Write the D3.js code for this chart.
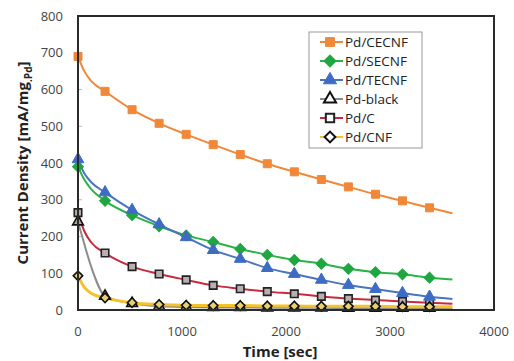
<!DOCTYPE html>
<html>
<head>
<meta charset="utf-8">
<script src="https://cdn.jsdelivr.net/npm/d3@7"></script>
<style>
  body { margin: 0; background: #fff; }
  text { font-family: "Open Sans", "Liberation Sans", sans-serif; }
</style>
</head>
<body>
<div id="chart"></div>
<script>
var svgWidth = 514;
var svgHeight = 361;

var margin = { top: 16, right: 20, bottom: 51, left: 78 };
var width = svgWidth - margin.left - margin.right;
var height = svgHeight - margin.top - margin.bottom;

// Data
var times = [0, 60, 130, 260, 520, 780, 1040, 1300, 1560, 1820, 2080, 2340, 2600, 2860, 3120, 3380, 3600];
var markerTimes = [0, 260, 520, 780, 1040, 1300, 1560, 1820, 2080, 2340, 2600, 2860, 3120, 3380];

var names = ["Pd/CECNF", "Pd/SECNF", "Pd/TECNF", "Pd-black", "Pd/C", "Pd/CNF"];
var cecnf = [690, 650, 622, 595, 545, 508, 478, 450, 423, 398, 376, 355, 335, 315, 297, 278, 263];
var secnf = [390, 355, 328, 297, 258, 228, 203, 185, 166, 150, 136, 126, 112, 103, 97, 88, 83];
var tecnf = [410, 372, 347, 320, 272, 233, 198, 163, 139, 114, 98, 82, 68, 57, 46, 36, 30];
var pdBlack = [240, 180, 115, 38, 18, 10, 8, 7, 7, 6, 6, 6, 5, 5, 5, 5, 5];
var pdC = [265, 215, 183, 155, 118, 98, 82, 67, 58, 50, 44, 37, 31, 27, 23, 20, 17];
var pdCnf = [93, 62, 45, 33, 20, 15, 13, 12, 12, 11, 11, 10, 10, 10, 9, 9, 9];

var xTicks = [0, 1000, 2000, 3000, 4000];
var yTicks = [0, 100, 200, 300, 400, 500, 600, 700, 800];

// diamonds are drawn as squares turned 45 degrees
var series = [
  { name: names[0], values: cecnf, line: "#F0883A", symbol: d3.symbolSquare, rot: 0, size: 64, fill: "#F0883A", stroke: "#F0883A" },
  { name: names[1], values: secnf, line: "#2DB24A", symbol: d3.symbolSquare, rot: 45, size: 60, fill: "#1FA640", stroke: "#1FA640" },
  { name: names[2], values: tecnf, line: "#4A74C0", symbol: d3.symbolTriangle, rot: 0, size: 60, fill: "#3E6CC4", stroke: "#3E6CC4" },
  { name: names[3], values: pdBlack, line: "#8C8C8C", symbol: d3.symbolTriangle, rot: 0, size: 50, fill: "#B0A890", stroke: "#111" },
  { name: names[4], values: pdC, line: "#C62A3E", symbol: d3.symbolSquare, rot: 0, size: 56, fill: "#B8B0B0", stroke: "#222" },
  { name: names[5], values: pdCnf, line: "#F4C22A", symbol: d3.symbolSquare, rot: 45, size: 44, fill: "#E8D070", stroke: "#111" }
];

var svg = d3.select("#chart")
  .append("svg")
  .attr("width", svgWidth)
  .attr("height", svgHeight);

var chartGroup = svg.append("g")
  .attr("transform", `translate(${margin.left}, ${margin.top})`);

var xScale = d3.scaleLinear().domain([0, 4000]).range([0, width]);
var yScale = d3.scaleLinear().domain([0, 800]).range([height, 0]);

// small inner ticks on the left axis
chartGroup.selectAll(".ytick")
  .data(yTicks.slice(1, -1))
  .enter()
  .append("line")
  .attr("x1", 0).attr("x2", 4)
  .attr("y1", d => yScale(d)).attr("y2", d => yScale(d))
  .attr("stroke", "#bbb")
  .attr("stroke-width", 1);

// lines
var line = d3.line()
  .x((d, i) => xScale(times[i]))
  .y(d => yScale(d))
  .curve(d3.curveMonotoneX);

var order = [4, 3, 5, 1, 2, 0];
order.forEach(function(k) {
  var s = series[k];
  chartGroup.append("path")
    .datum(s.values)
    .attr("d", line)
    .attr("fill", "none")
    .attr("stroke", s.line)
    .attr("stroke-width", k === 5 ? 3 : 2);
});

// markers
order.forEach(function(k) {
  var s = series[k];
  var pts = markerTimes.map(t => ({ t: t, v: s.values[times.indexOf(t)] }));
  chartGroup.selectAll(null)
    .data(pts)
    .enter()
    .append("path")
    .attr("d", d3.symbol().type(s.symbol).size(s.size))
    .attr("transform", d => `translate(${xScale(d.t)}, ${yScale(d.v)}) rotate(${s.rot})`)
    .attr("fill", s.fill)
    .attr("stroke", s.stroke)
    .attr("stroke-width", k >= 3 ? 1.6 : 1);
});

// plot frame
chartGroup.append("rect")
  .attr("x", 0).attr("y", 0)
  .attr("width", width).attr("height", height)
  .attr("fill", "none")
  .attr("stroke", "#2a2a2a")
  .attr("stroke-width", 2);

// tick labels
chartGroup.selectAll(".ylab")
  .data(yTicks)
  .enter()
  .append("text")
  .attr("x", -15)
  .attr("y", d => yScale(d))
  .attr("dy", "0.35em")
  .attr("text-anchor", "end")
  .attr("font-size", "13px")
  .attr("fill", "#444")
  .text(d => d);

chartGroup.selectAll(".xlab")
  .data(xTicks)
  .enter()
  .append("text")
  .attr("x", d => xScale(d))
  .attr("y", height + 26)
  .attr("text-anchor", "middle")
  .attr("font-size", "13px")
  .attr("fill", "#444")
  .text(d => d);

// axis titles
var yTitle = chartGroup.append("text")
  .attr("transform", "rotate(-90)")
  .attr("x", -height / 2)
  .attr("y", -margin.left + 28)
  .attr("text-anchor", "middle")
  .attr("font-size", "15px")
  .attr("font-weight", "bold")
  .attr("fill", "#222");
yTitle.append("tspan").text("Current Density [mA/mg");
yTitle.append("tspan").attr("font-size", "10px").attr("dy", 4).text(".Pd");
yTitle.append("tspan").attr("dy", -4).text("]");

chartGroup.append("text")
  .attr("x", width / 2 - 6)
  .attr("y", height + 47)
  .attr("text-anchor", "middle")
  .attr("font-size", "15px")
  .attr("font-weight", "bold")
  .attr("fill", "#222")
  .text("Time [sec]");

// legend
var legend = svg.append("g").attr("transform", "translate(309, 32)");
legend.append("rect")
  .attr("width", 113).attr("height", 116)
  .attr("fill", "#fff")
  .attr("stroke", "#999")
  .attr("stroke-width", 1);

series.forEach(function(s, i) {
  var gy = 10 + i * 19;
  var g = legend.append("g").attr("transform", `translate(0, ${gy})`);
  g.append("line")
    .attr("x1", 11).attr("x2", 34)
    .attr("stroke", s.line).attr("stroke-width", 2);
  g.append("path")
    .attr("d", d3.symbol().type(s.symbol).size(s.size + 14))
    .attr("transform", `translate(21, 0) rotate(${s.rot})`)
    .attr("fill", i >= 3 ? "#fff" : s.fill)
    .attr("stroke", s.stroke)
    .attr("stroke-width", i >= 3 ? 2 : 1);
  g.append("text")
    .attr("x", 36)
    .attr("dy", "0.35em")
    .attr("font-size", "13.5px")
    .attr("fill", "#222")
    .text(s.name);
});
</script>
</body>
</html>
